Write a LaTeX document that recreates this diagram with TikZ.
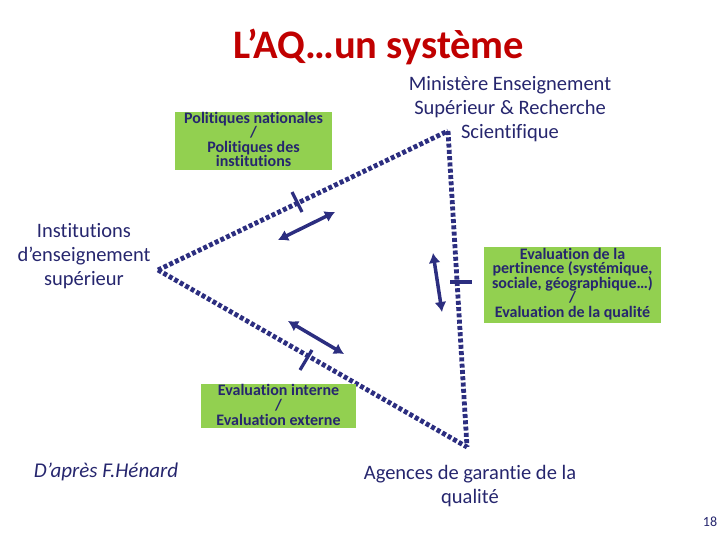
\documentclass[tikz,border=0pt]{standalone}
\usepackage{fontspec}
\setmainfont[RawFeature={-liga;-clig;-dlig}]{Carlito}
\usetikzlibrary{arrows.meta}
\definecolor{navy}{RGB}{38,38,110}
\definecolor{linec}{RGB}{44,46,128}
\definecolor{titlered}{RGB}{192,0,0}
\definecolor{grn}{RGB}{146,208,80}
\tikzset{
  dotline/.style={draw=linec, line width=4.8pt, dash pattern=on 4pt off 2.3pt},
  tickline/.style={draw=linec, line width=3.2pt},
  dblarrow/.style={draw=linec, line width=3.5pt, {Latex[length=10pt,width=12pt]}-{Latex[length=10pt,width=12pt]}},
  greenbox/.style={fill=grn, text=navy, font=\fontsize{16}{14.6}\selectfont\bfseries, align=center, inner sep=0pt},
  lbl/.style={text=navy, font=\fontsize{20.5}{23.7}\selectfont, align=center, inner sep=0pt}
}
\begin{document}
\begin{tikzpicture}[x=1pt,y=-1pt]
\useasboundingbox (0,0) rectangle (720,540);
% title
\node[text=titlered, font=\fontsize{40.5}{44}\selectfont\bfseries] (title) at (379,47) {L’AQ…un système};
% vertices
\coordinate (L) at (158,270);
\coordinate (T) at (448,131);
\coordinate (B) at (467,447);
% triangle edges
\draw[dotline] (L) -- (T);
\draw[dotline] (L) -- (B);
\draw[dotline] (T) -- (B);
% ticks
\coordinate (t1a) at (292,192); \coordinate (t1b) at (302,212);
\coordinate (t2a) at (300,370); \coordinate (t2b) at (312,350);
\coordinate (t3a) at (450,282); \coordinate (t3b) at (472,282);
\draw[tickline] (t1a) -- (t1b);
\draw[tickline] (t2a) -- (t2b);
\draw[tickline] (t3a) -- (t3b);
% double arrows
\coordinate (a1a) at (278,240); \coordinate (a1b) at (335,212);
\coordinate (a2a) at (288,321); \coordinate (a2b) at (344,354);
\coordinate (a3a) at (433,253); \coordinate (a3b) at (442,312);
\draw[dblarrow] (a1a) -- (a1b);
\draw[dblarrow] (a2a) -- (a2b);
\draw[dblarrow] (a3a) -- (a3b);
% green boxes
\fill[grn] (175,112) rectangle (332,170);
\node[greenbox] (pol) at (253.5,139.5) {Politiques nationales\\/\\Politiques des\\institutions};
\fill[grn] (201,384) rectangle (356,428);
\node[greenbox] (evi) at (278.5,405) {Evaluation interne\\/\\Evaluation externe};
\fill[grn] (484,247) rectangle (661,323);
\node[greenbox] (evp) at (572.5,284) {Evaluation de la\\pertinence (systémique,\\sociale, géographique…)\\/\\Evaluation de la qualité};
% labels
\node[lbl] (min) at (510,109) {Ministère Enseignement\\Supérieur \& Recherche\\Scientifique};
\node[lbl] (ins) at (84,256) {Institutions\\d’enseignement\\supérieur};
\node[lbl] (age) at (470,486) {Agences de garantie de la\\qualité};
\node[lbl, font=\fontsize{21}{24}\selectfont\itshape] (hen) at (106,472) {D’après F.Hénard};
\node[text=navy, font=\fontsize{14}{15}\selectfont] (pg) at (710,522) {18};
\end{tikzpicture}
\end{document}
